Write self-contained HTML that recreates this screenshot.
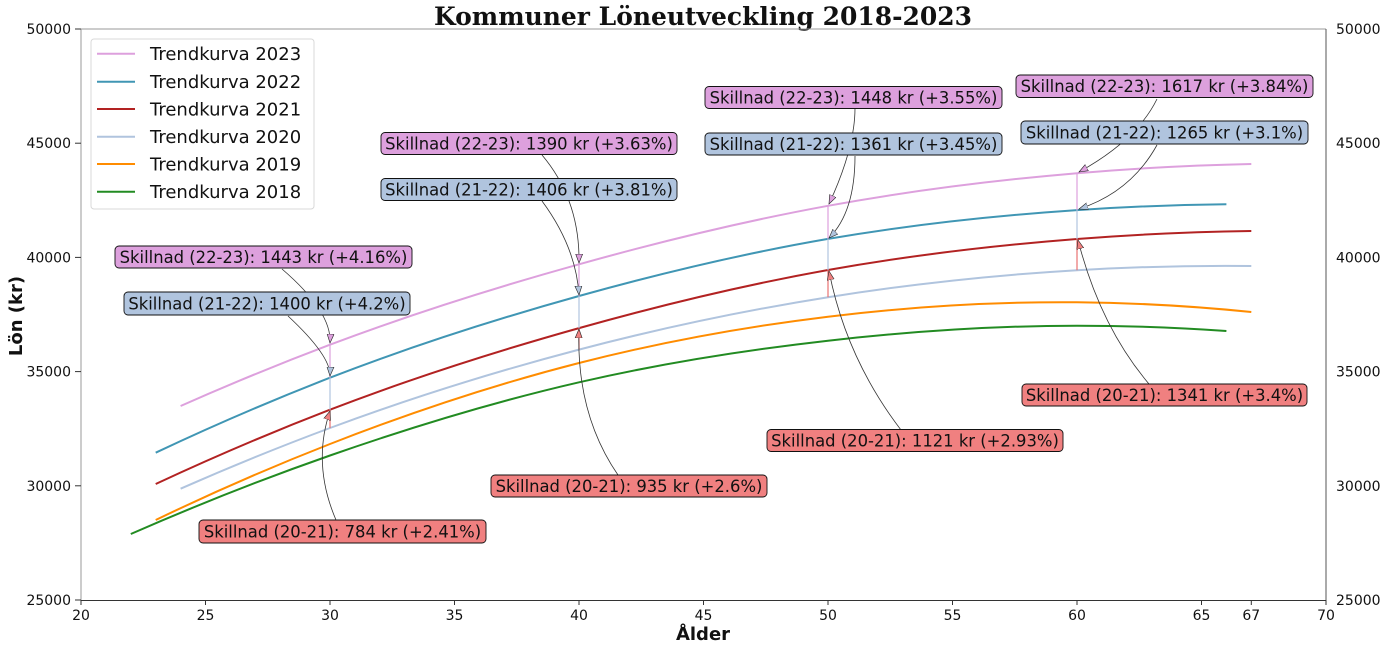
<!DOCTYPE html>
<html><head><meta charset="utf-8"><style>
html,body{margin:0;padding:0;background:#fff;}
svg{display:block;}
text{font-family:"DejaVu Sans","Liberation Sans",sans-serif;fill:#111;}
</style></head><body>
<svg width="1386" height="648" viewBox="0 0 1386 648" xmlns="http://www.w3.org/2000/svg">
<defs>
<marker id="mp" markerUnits="userSpaceOnUse" markerWidth="12" markerHeight="10" refX="9" refY="4" orient="auto"><path d="M0,0.5 L9,4 L0,7.5 z" fill="#dda0dd" stroke="#222" stroke-width="0.6"/></marker>
<marker id="mb" markerUnits="userSpaceOnUse" markerWidth="12" markerHeight="10" refX="9" refY="4" orient="auto"><path d="M0,0.5 L9,4 L0,7.5 z" fill="#b0c4de" stroke="#222" stroke-width="0.6"/></marker>
<marker id="mr" markerUnits="userSpaceOnUse" markerWidth="12" markerHeight="10" refX="9" refY="4" orient="auto"><path d="M0,0.5 L9,4 L0,7.5 z" fill="#f08080" stroke="#222" stroke-width="0.6"/></marker>
</defs>

<!-- title -->
<text x="703" y="25" text-anchor="middle" style="font-family:'DejaVu Serif','Liberation Serif',serif;font-weight:bold;font-size:25px" textLength="538" lengthAdjust="spacingAndGlyphs">Kommuner Löneutveckling 2018-2023</text>

<!-- spines -->
<line x1="81" y1="29" x2="1326" y2="29" stroke="#999" stroke-width="1"/>
<line x1="81" y1="29" x2="81" y2="600" stroke="#999" stroke-width="1"/>
<line x1="81" y1="600.5" x2="1326" y2="600.5" stroke="#333" stroke-width="1"/>
<line x1="1326" y1="29" x2="1326" y2="600" stroke="#555" stroke-width="1"/>

<!-- left ticks -->
<g stroke="#333" stroke-width="1">
<line x1="75" y1="29" x2="81" y2="29"/>
<line x1="75" y1="143.2" x2="81" y2="143.2"/>
<line x1="75" y1="257.4" x2="81" y2="257.4"/>
<line x1="75" y1="371.6" x2="81" y2="371.6"/>
<line x1="75" y1="485.8" x2="81" y2="485.8"/>
<line x1="75" y1="600" x2="81" y2="600"/>
</g>
<g font-size="14" text-anchor="end">
<text x="71" y="34">50000</text>
<text x="71" y="148.2">45000</text>
<text x="71" y="262.4">40000</text>
<text x="71" y="376.6">35000</text>
<text x="71" y="490.8">30000</text>
<text x="71" y="605">25000</text>
</g>
<g font-size="14" text-anchor="start">
<text x="1336" y="34">50000</text>
<text x="1336" y="148.2">45000</text>
<text x="1336" y="262.4">40000</text>
<text x="1336" y="376.6">35000</text>
<text x="1336" y="490.8">30000</text>
<text x="1336" y="605">25000</text>
</g>

<!-- bottom ticks -->
<g stroke="#333" stroke-width="1">
<line x1="81" y1="600" x2="81" y2="605"/>
<line x1="205.5" y1="600" x2="205.5" y2="605"/>
<line x1="330" y1="600" x2="330" y2="605"/>
<line x1="454.5" y1="600" x2="454.5" y2="605"/>
<line x1="579" y1="600" x2="579" y2="605"/>
<line x1="703.5" y1="600" x2="703.5" y2="605"/>
<line x1="828" y1="600" x2="828" y2="605"/>
<line x1="952.5" y1="600" x2="952.5" y2="605"/>
<line x1="1077" y1="600" x2="1077" y2="605"/>
<line x1="1201.5" y1="600" x2="1201.5" y2="605"/>
<line x1="1251.3" y1="600" x2="1251.3" y2="605"/>
<line x1="1326" y1="600" x2="1326" y2="605"/>
</g>
<g font-size="14" text-anchor="middle">
<text x="81" y="620">20</text>
<text x="205.5" y="620">25</text>
<text x="330" y="620">30</text>
<text x="454.5" y="620">35</text>
<text x="579" y="620">40</text>
<text x="703.5" y="620">45</text>
<text x="828" y="620">50</text>
<text x="952.5" y="620">55</text>
<text x="1077" y="620">60</text>
<text x="1201.5" y="620">65</text>
<text x="1251.3" y="620">67</text>
<text x="1326" y="620">70</text>
</g>

<!-- axis labels -->
<text x="703" y="640" text-anchor="middle" font-size="18" font-weight="bold">Ålder</text>
<text transform="translate(22,316) rotate(-90)" text-anchor="middle" font-size="18" font-weight="bold">Lön (kr)</text>

<!-- curves -->
<g fill="none" stroke-width="2" stroke-linecap="butt">
<path stroke="#228b22" d="M130.8,534 C197.2,504.9 263.6,478.7 330,455.5 C413,426.5 496,401.4 579,382.3 C662,363.2 745,350.1 828,340.7 C911,331.3 994,325.7 1077,325.7 C1126.8,325.7 1176.6,327.4 1226.4,331"/>
<path stroke="#ff8c00" d="M155.7,520 C213.8,492 271.9,466.7 330,444 C413,411.6 496,384.2 579,363 C662,341.8 745,326.8 828,316.7 C911,306.6 994,301.6 1077,302.3 C1135.1,302.8 1193.2,306.1 1251.3,312"/>
<path stroke="#b0c4de" d="M180.6,488.7 C230.4,466.8 280.2,446.5 330,428 C413,397.1 496,371.4 579,349.6 C662,327.8 745,310.4 828,297.2 C911,284 994,275.1 1077,270.2 C1135.1,266.8 1193.2,265.4 1251.3,266"/>
<path stroke="#b22222" d="M155.7,484 C213.8,456.9 271.9,432.1 330,409.7 C413,377.7 496,351.4 579,328.1 C662,304.8 745,284.9 828,270 C911,255.2 994,245.5 1077,239 C1135.1,234.5 1193.2,231.8 1251.3,231"/>
<path stroke="#4096b4" d="M155.7,452.7 C213.8,425.3 271.9,400.3 330,377.7 C413,345.5 496,319.1 579,296 C662,272.9 745,253.2 828,238.9 C911,224.6 994,215.7 1077,210.1 C1126.8,206.7 1176.6,204.8 1226.4,204.3"/>
<path stroke="#dda0dd" d="M180.6,406 C230.4,383.9 280.2,363.5 330,344.7 C413,313.4 496,287.4 579,264.3 C662,241.1 745,221 828,205.8 C911,190.6 994,180.3 1077,173.2 C1135.1,168.3 1193.2,165.2 1251.3,164"/>
</g>

<!-- vertical difference lines -->
<g stroke-width="1.2">
<line x1="330" y1="344.7" x2="330" y2="377.7" stroke="#dda0dd"/>
<line x1="330" y1="377.7" x2="330" y2="409.7" stroke="#b0c4de"/>
<line x1="330" y1="409.7" x2="330" y2="428" stroke="#e87070"/>
<line x1="579" y1="264.3" x2="579" y2="296" stroke="#dda0dd"/>
<line x1="579" y1="296" x2="579" y2="328.1" stroke="#b0c4de"/>
<line x1="579" y1="328.1" x2="579" y2="349.6" stroke="#e87070"/>
<line x1="828" y1="205.8" x2="828" y2="238.9" stroke="#dda0dd"/>
<line x1="828" y1="238.9" x2="828" y2="270" stroke="#b0c4de"/>
<line x1="828" y1="270" x2="828" y2="297.2" stroke="#e87070"/>
<line x1="1077" y1="173.2" x2="1077" y2="210.1" stroke="#dda0dd"/>
<line x1="1077" y1="210.1" x2="1077" y2="239" stroke="#b0c4de"/>
<line x1="1077" y1="239" x2="1077" y2="270.2" stroke="#e87070"/>
</g>

<!-- arrows -->
<g fill="none" stroke="#333" stroke-width="0.8">
<path d="M282,269 Q332,312 330,343" marker-end="url(#mp)"/>
<path d="M288,316 Q331,356 330,376" marker-end="url(#mb)"/>
<path d="M336,520 Q312,464 330,411" marker-end="url(#mr)"/>
<path d="M542,155 Q580,200 579,263" marker-end="url(#mp)"/>
<path d="M542,201 Q576,247 579,295" marker-end="url(#mb)"/>
<path d="M618,475 Q576,414 579,329" marker-end="url(#mr)"/>
<path d="M855,108 Q855,148 829,204" marker-end="url(#mp)"/>
<path d="M855,156 Q855,212 829,238" marker-end="url(#mb)"/>
<path d="M901,430 Q846,358 829,271" marker-end="url(#mr)"/>
<path d="M1157,99 Q1137,140 1079,172" marker-end="url(#mp)"/>
<path d="M1157,145 Q1131,192 1079,209" marker-end="url(#mb)"/>
<path d="M1149,384 Q1100,326 1078,240" marker-end="url(#mr)"/>
</g>

<!-- annotation boxes -->
<g stroke="#111" stroke-width="0.9">
<rect x="115" y="246" width="297" height="22" rx="4" fill="#dda0dd"/>
<rect x="124" y="292" width="286" height="23" rx="4" fill="#b0c4de"/>
<rect x="199" y="520" width="287" height="23" rx="4" fill="#f08080"/>
<rect x="381" y="132.5" width="296" height="22" rx="4" fill="#dda0dd"/>
<rect x="381" y="178.5" width="296" height="22" rx="4" fill="#b0c4de"/>
<rect x="491" y="475" width="276" height="22" rx="4" fill="#f08080"/>
<rect x="705" y="86.5" width="297" height="22" rx="4" fill="#dda0dd"/>
<rect x="705" y="133" width="297" height="22" rx="4" fill="#b0c4de"/>
<rect x="767" y="429.5" width="296" height="22" rx="4" fill="#f08080"/>
<rect x="1016" y="75" width="297" height="22.5" rx="4" fill="#dda0dd"/>
<rect x="1021" y="121" width="287" height="23" rx="4" fill="#b0c4de"/>
<rect x="1022" y="384" width="285" height="22" rx="4" fill="#f08080"/>
</g>
<g font-size="16.4" text-anchor="middle">
<text x="263.5" y="262.8">Skillnad (22-23): 1443 kr (+4.16%)</text>
<text x="267" y="309.3">Skillnad (21-22): 1400 kr (+4.2%)</text>
<text x="342.5" y="537.3">Skillnad (20-21): 784 kr (+2.41%)</text>
<text x="529" y="149.3">Skillnad (22-23): 1390 kr (+3.63%)</text>
<text x="529" y="195.3">Skillnad (21-22): 1406 kr (+3.81%)</text>
<text x="629" y="491.8">Skillnad (20-21): 935 kr (+2.6%)</text>
<text x="853.5" y="103.3">Skillnad (22-23): 1448 kr (+3.55%)</text>
<text x="853.5" y="149.8">Skillnad (21-22): 1361 kr (+3.45%)</text>
<text x="915" y="446.3">Skillnad (20-21): 1121 kr (+2.93%)</text>
<text x="1164.5" y="92">Skillnad (22-23): 1617 kr (+3.84%)</text>
<text x="1164.5" y="138.3">Skillnad (21-22): 1265 kr (+3.1%)</text>
<text x="1164.5" y="400.8">Skillnad (20-21): 1341 kr (+3.4%)</text>
</g>

<!-- legend -->
<rect x="91" y="39" width="223" height="170" rx="3" fill="#fff" fill-opacity="0.85" stroke="#d8d8d8" stroke-width="1"/>
<g stroke-width="2">
<line x1="97" y1="53.7" x2="135" y2="53.7" stroke="#dda0dd"/>
<line x1="97" y1="81.7" x2="135" y2="81.7" stroke="#4096b4"/>
<line x1="97" y1="109" x2="135" y2="109" stroke="#b22222"/>
<line x1="97" y1="136.7" x2="135" y2="136.7" stroke="#b0c4de"/>
<line x1="97" y1="164" x2="135" y2="164" stroke="#ff8c00"/>
<line x1="97" y1="191.7" x2="135" y2="191.7" stroke="#228b22"/>
</g>
<g font-size="18">
<text x="150" y="60.2">Trendkurva 2023</text>
<text x="150" y="88.2">Trendkurva 2022</text>
<text x="150" y="115.5">Trendkurva 2021</text>
<text x="150" y="143.2">Trendkurva 2020</text>
<text x="150" y="170.5">Trendkurva 2019</text>
<text x="150" y="198.2">Trendkurva 2018</text>
</g>
</svg>
</body></html>
